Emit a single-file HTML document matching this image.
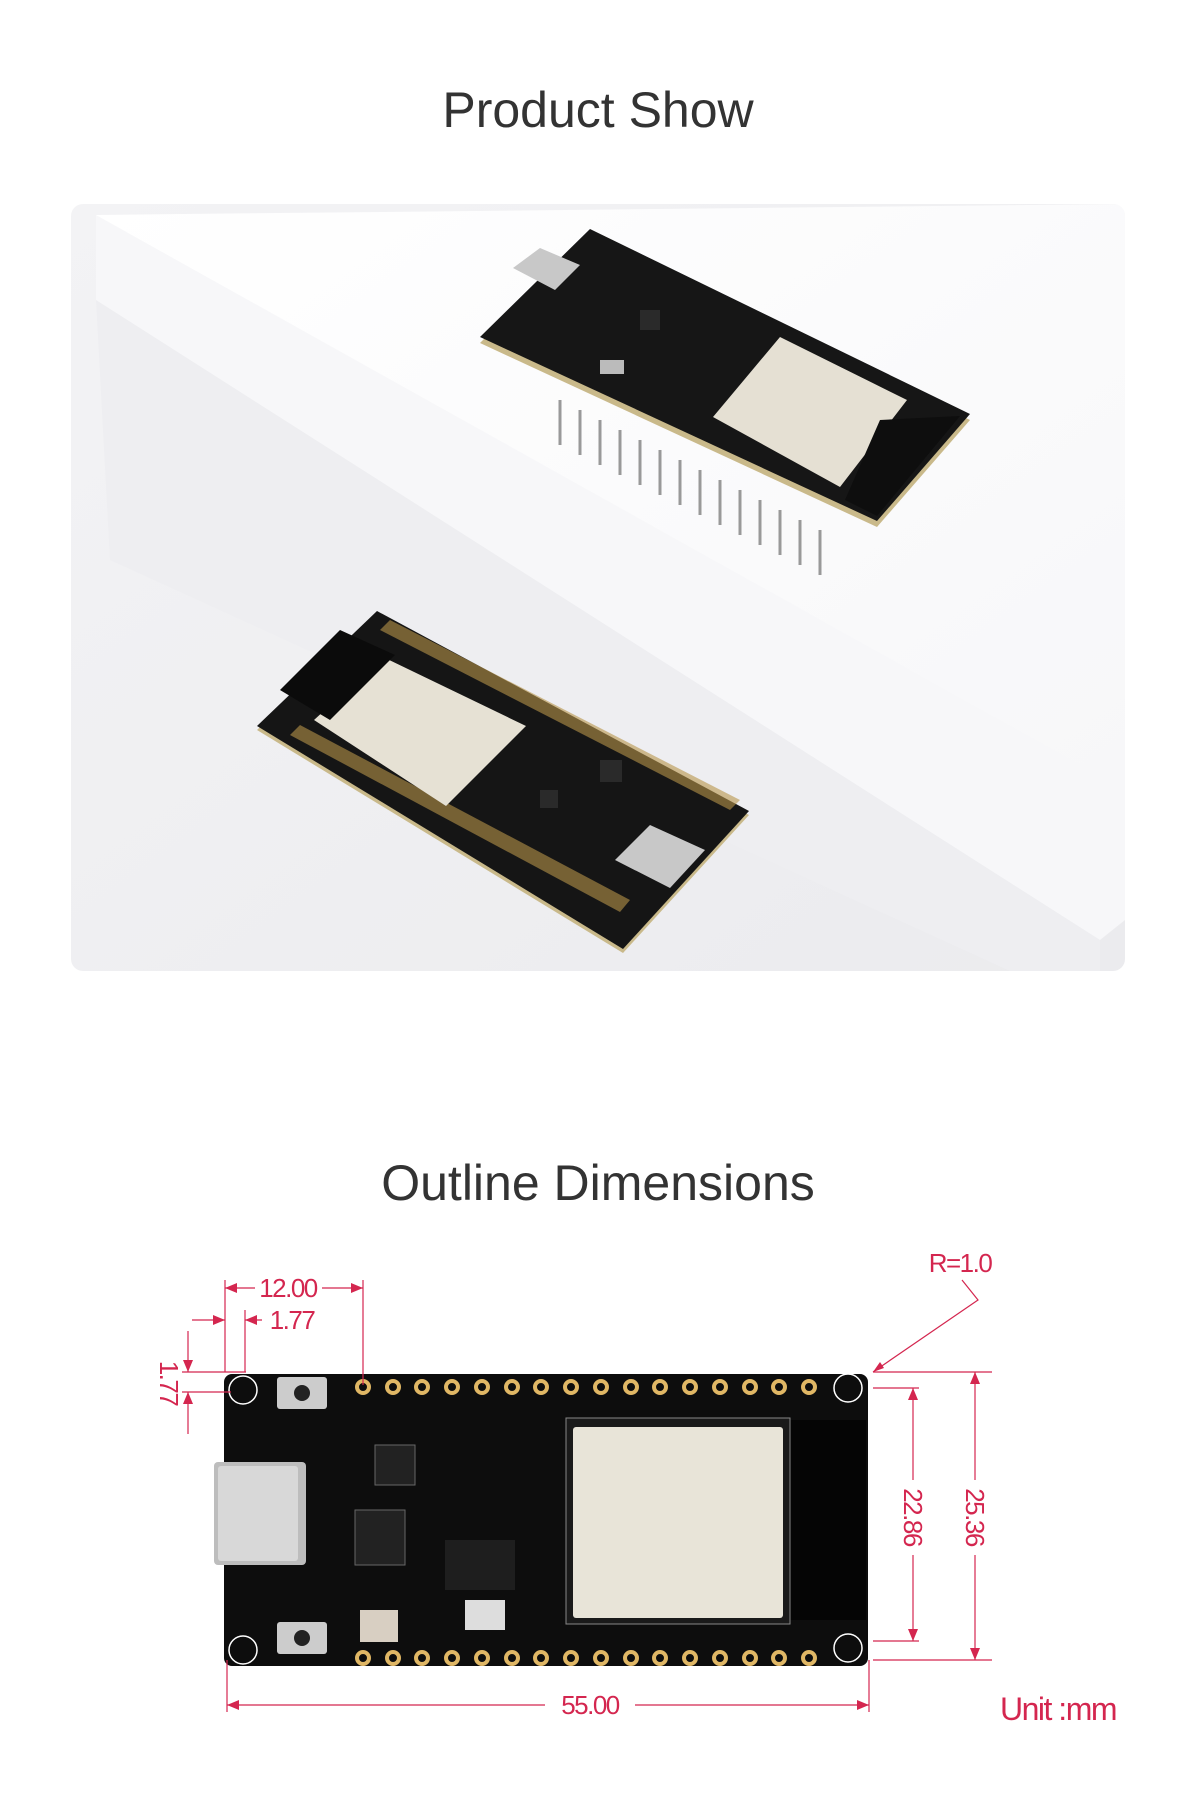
<!DOCTYPE html>
<html><head><meta charset="utf-8"><style>
html,body{margin:0;padding:0;background:#fff;width:1200px;height:1795px;overflow:hidden}
svg{display:block}
</style></head><body>
<svg width="1200" height="1795" viewBox="0 0 1200 1795" xmlns="http://www.w3.org/2000/svg" font-family="Liberation Sans, sans-serif">
<defs>
<linearGradient id="bg" x1="0" y1="0" x2="1" y2="1"><stop offset="0" stop-color="#f3f3f5"/><stop offset="1" stop-color="#ebebee"/></linearGradient>
<linearGradient id="blk" x1="0" y1="0" x2="1" y2="1"><stop offset="0" stop-color="#ffffff"/><stop offset="1" stop-color="#f6f6f8"/></linearGradient>
<clipPath id="pc"><rect x="71" y="204" width="1054" height="767" rx="12"/></clipPath>
</defs>
<text x="598" y="127" font-size="50" fill="#333" text-anchor="middle">Product Show</text>
<rect x="71" y="204" width="1054" height="767" rx="12" fill="url(#bg)"/>
<g clip-path="url(#pc)">
<polygon points="96,215 1125,204 1125,790 1100,940 96,300" fill="url(#blk)"/>
<polygon points="96,215 96,300 1100,940 1125,920 1125,790" fill="#f7f7f9"/>
<polygon points="96,300 110,560 1010,971 1100,971 1100,940" fill="#eeeef1"/>
</g>
<!-- board 1 -->
<g>
<g stroke="#999" stroke-width="3">
<line x1="560" y1="400" x2="560" y2="445"/><line x1="580" y1="410" x2="580" y2="455"/><line x1="600" y1="420" x2="600" y2="465"/><line x1="620" y1="430" x2="620" y2="475"/><line x1="640" y1="440" x2="640" y2="485"/><line x1="660" y1="450" x2="660" y2="495"/><line x1="680" y1="460" x2="680" y2="505"/><line x1="700" y1="470" x2="700" y2="515"/><line x1="720" y1="480" x2="720" y2="525"/><line x1="740" y1="490" x2="740" y2="535"/><line x1="760" y1="500" x2="760" y2="545"/><line x1="780" y1="510" x2="780" y2="555"/><line x1="800" y1="520" x2="800" y2="565"/><line x1="820" y1="530" x2="820" y2="575"/>
</g>
<polygon points="480,343 590,233 970,420 877,527" fill="#c9b98a"/>
<polygon points="480,337 590,229 970,414 877,521" fill="#161616"/>
<polygon points="713,417 780,337 907,400 840,487" fill="#e5e0d3"/>
<polygon points="880,420 960,416 877,516 845,500" fill="#0e0e0e"/>
<polygon points="513,268 540,248 580,265 555,290" fill="#c8c8c8"/>
<rect x="640" y="310" width="20" height="20" fill="#2a2a2a"/>
<rect x="600" y="360" width="24" height="14" fill="#bbb"/>
</g>
<!-- board 2 -->
<g>
<polygon points="257,730 377,615 749,815 623,953" fill="#c9b98a"/>
<polygon points="257,726 377,611 749,811 623,949" fill="#151515"/>
<polygon points="290,735 300,725 630,900 620,912" fill="#b8954a" opacity=".6"/>
<polygon points="380,630 390,620 740,800 730,810" fill="#b8954a" opacity=".6"/>
<polygon points="314,720 383,657 526,726 446,806" fill="#e6e1d4"/>
<polygon points="280,690 340,630 395,655 330,720" fill="#0b0b0b"/>
<polygon points="615,860 650,825 705,850 670,888" fill="#c8c8c8"/>
<rect x="600" y="760" width="22" height="22" fill="#2a2a2a"/>
<rect x="540" y="790" width="18" height="18" fill="#2a2a2a"/>
</g>
<text x="598" y="1200" font-size="50" fill="#333" text-anchor="middle">Outline Dimensions</text>
<!-- dimension board -->
<rect x="224" y="1374" width="644" height="292" rx="8" fill="#0d0d0d"/>
<rect x="788" y="1420" width="78" height="200" fill="#050505"/>
<rect x="566" y="1418" width="224" height="206" fill="#1a1a1a" stroke="#888" stroke-width="1"/>
<rect x="573" y="1427" width="210" height="191" rx="3" fill="#e8e4d8"/>
<rect x="214" y="1462" width="92" height="103" rx="4" fill="#bdbdbd"/>
<rect x="218" y="1466" width="80" height="95" rx="3" fill="#d8d8d8"/>
<rect x="277" y="1377" width="50" height="32" rx="3" fill="#ccc"/><circle cx="302" cy="1393" r="8" fill="#222"/>
<rect x="277" y="1622" width="50" height="32" rx="3" fill="#ccc"/><circle cx="302" cy="1638" r="8" fill="#222"/>
<rect x="360" y="1610" width="38" height="32" fill="#d8cfc2"/>
<rect x="465" y="1600" width="40" height="30" fill="#ddd"/>
<rect x="355" y="1510" width="50" height="55" fill="#222" stroke="#666"/>
<rect x="375" y="1445" width="40" height="40" fill="#222" stroke="#666"/>
<rect x="445" y="1540" width="70" height="50" fill="#1e1e1e"/>
<g fill="#0d0d0d" stroke="#fff" stroke-width="1.5">
<circle cx="243" cy="1390" r="14"/><circle cx="243" cy="1650" r="14"/><circle cx="848" cy="1388" r="14"/><circle cx="848" cy="1648" r="14"/>
</g>
<g fill="#0d0d0d" stroke="#e0b765" stroke-width="4">
<circle cx="363" cy="1387" r="6"/><circle cx="393" cy="1387" r="6"/><circle cx="422" cy="1387" r="6"/><circle cx="452" cy="1387" r="6"/><circle cx="482" cy="1387" r="6"/><circle cx="512" cy="1387" r="6"/><circle cx="541" cy="1387" r="6"/><circle cx="571" cy="1387" r="6"/><circle cx="601" cy="1387" r="6"/><circle cx="631" cy="1387" r="6"/><circle cx="660" cy="1387" r="6"/><circle cx="690" cy="1387" r="6"/><circle cx="720" cy="1387" r="6"/><circle cx="750" cy="1387" r="6"/><circle cx="779" cy="1387" r="6"/><circle cx="809" cy="1387" r="6"/>
<circle cx="363" cy="1658" r="6"/><circle cx="393" cy="1658" r="6"/><circle cx="422" cy="1658" r="6"/><circle cx="452" cy="1658" r="6"/><circle cx="482" cy="1658" r="6"/><circle cx="512" cy="1658" r="6"/><circle cx="541" cy="1658" r="6"/><circle cx="571" cy="1658" r="6"/><circle cx="601" cy="1658" r="6"/><circle cx="631" cy="1658" r="6"/><circle cx="660" cy="1658" r="6"/><circle cx="690" cy="1658" r="6"/><circle cx="720" cy="1658" r="6"/><circle cx="750" cy="1658" r="6"/><circle cx="779" cy="1658" r="6"/><circle cx="809" cy="1658" r="6"/>
</g>
<!-- dimensions -->
<g stroke="#d4264f" stroke-width="1.2" fill="none">
<line x1="225" y1="1280" x2="225" y2="1372"/><line x1="245" y1="1310" x2="245" y2="1372"/><line x1="363" y1="1280" x2="363" y2="1385"/>
<line x1="225" y1="1288" x2="255" y2="1288"/><line x1="322" y1="1288" x2="363" y2="1288"/>
<line x1="192" y1="1320" x2="225" y2="1320"/><line x1="245" y1="1320" x2="262" y2="1320"/>
<line x1="188" y1="1331" x2="188" y2="1372"/><line x1="188" y1="1392" x2="188" y2="1434"/>
<line x1="182" y1="1372" x2="246" y2="1372"/><line x1="182" y1="1392" x2="231" y2="1392"/>
<polyline points="962,1280 978,1300 873,1372"/>
<line x1="873" y1="1388" x2="919" y2="1388"/><line x1="873" y1="1641" x2="919" y2="1641"/>
<line x1="913" y1="1388" x2="913" y2="1480"/><line x1="913" y1="1555" x2="913" y2="1641"/>
<line x1="873" y1="1372" x2="992" y2="1372"/><line x1="873" y1="1660" x2="992" y2="1660"/>
<line x1="975" y1="1372" x2="975" y2="1480"/><line x1="975" y1="1555" x2="975" y2="1660"/>
<line x1="227" y1="1660" x2="227" y2="1712"/><line x1="869" y1="1660" x2="869" y2="1712"/>
<line x1="227" y1="1705" x2="545" y2="1705"/><line x1="635" y1="1705" x2="869" y2="1705"/>
</g>
<g fill="#d4264f">
<polygon points="225,1288 237,1283 237,1293"/><polygon points="363,1288 351,1283 351,1293"/>
<polygon points="225,1320 213,1315 213,1325"/><polygon points="245,1320 257,1315 257,1325"/>
<polygon points="188,1372 183,1360 193,1360"/><polygon points="188,1392 183,1404 193,1404"/>
<polygon points="873,1372 880,1362 884,1368"/>
<polygon points="913,1388 908,1400 918,1400"/><polygon points="913,1641 908,1629 918,1629"/>
<polygon points="975,1372 970,1384 980,1384"/><polygon points="975,1660 970,1648 980,1648"/>
<polygon points="227,1705 239,1700 239,1710"/><polygon points="869,1705 857,1700 857,1710"/>
</g>
<g fill="#d4264f" font-size="26" letter-spacing="-1.5">
<text x="288" y="1297" text-anchor="middle">12.00</text>
<text x="292" y="1329" text-anchor="middle">1.77</text>
<text x="960" y="1272" text-anchor="middle">R=1.0</text>
<text x="590" y="1714" text-anchor="middle">55.00</text>
<text transform="translate(160,1383) rotate(90)" text-anchor="middle">1.77</text>
<text transform="translate(904,1517) rotate(90)" text-anchor="middle">22.86</text>
<text transform="translate(966,1517) rotate(90)" text-anchor="middle">25.36</text>
<text x="1058" y="1720" text-anchor="middle" font-size="32">Unit :mm</text>
</g>
</svg>
</body></html>
